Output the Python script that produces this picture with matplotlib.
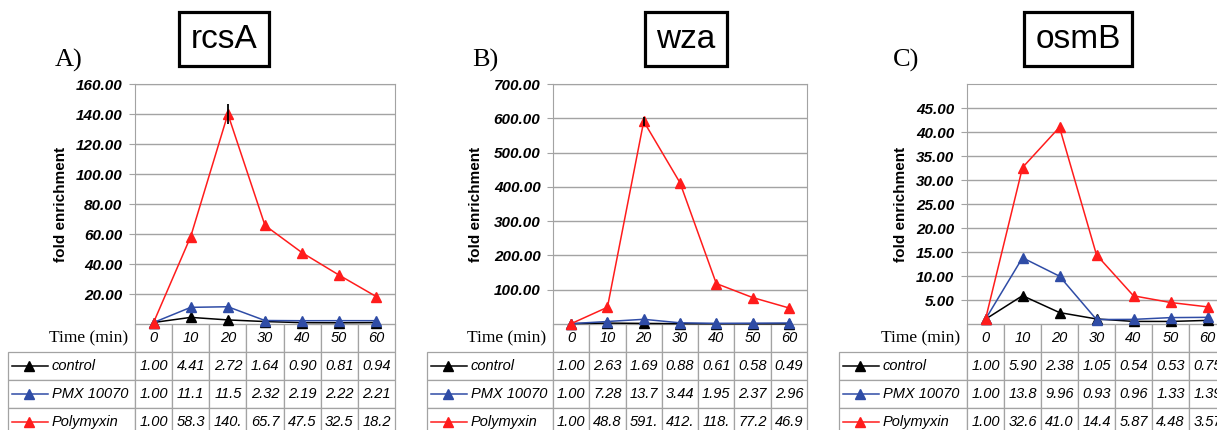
import matplotlib
matplotlib.use("Agg")
import matplotlib.pyplot as plt
from matplotlib.table import Table

plt.rcParams['font.family'] = ['Liberation Sans', 'DejaVu Sans']

# shared categories
times = [0, 10, 20, 30, 40, 50, 60]
series = ['control', 'PMX 10070', 'Polymyxin']
colors = ['black', '#2f4ca6', '#ff1c1c']
genes = ['rcsA', 'wza', 'osmB']
letters = ['A)', 'B)', 'C)']

# fold enrichment values
rcsA_control = [1.00, 4.41, 2.72, 1.64, 0.90, 0.81, 0.94]
rcsA_pmx = [1.00, 11.1, 11.5, 2.32, 2.19, 2.22, 2.21]
rcsA_poly = [1.00, 58.3, 140.0, 65.7, 47.5, 32.5, 18.2]
rcsA_poly_err = [0, 0, 6.5, 0, 0, 0, 0]

wza_control = [1.00, 2.63, 1.69, 0.88, 0.61, 0.58, 0.49]
wza_pmx = [1.00, 7.28, 13.7, 3.44, 1.95, 2.37, 2.96]
wza_poly = [1.00, 48.8, 591.0, 412.0, 118.0, 77.2, 46.9]
wza_poly_err = [0, 0, 14, 0, 0, 0, 0]

osmB_control = [1.00, 5.90, 2.38, 1.05, 0.54, 0.53, 0.75]
osmB_pmx = [1.00, 13.8, 9.96, 0.93, 0.96, 1.33, 1.39]
osmB_poly = [1.00, 32.6, 41.0, 14.4, 5.87, 4.48, 3.57]
osmB_poly_err = [0, 0, 0, 0, 0, 0, 0]

# y axis setup per panel: (ymax, step, last labelled tick)
y_axes = [(160, 20, 160), (700, 100, 700), (50, 5, 45)]

panels = [
    (rcsA_control, rcsA_pmx, rcsA_poly, rcsA_poly_err),
    (wza_control, wza_pmx, wza_poly, wza_poly_err),
    (osmB_control, osmB_pmx, osmB_poly, osmB_poly_err),
]

# layout in pixels: axes left, axes width, table left, ylabel x, letter x, title x
layout = [
    (135, 260, 8, 61, 55, 224),
    (553, 254, 427, 476, 472, 686),
    (967, 259, 839, 901, 893, 1078),
]

W, H = 1217, 430
ax_top, ax_bot = 84, 324
tab_px = 112
grey = '#a3a3a3'

fig = plt.figure(figsize=(W / 100, H / 100), dpi=100)

for (ctrl, pmx, poly, err), (ymax, step, ylast), gene, letter, geo in zip(
        panels, y_axes, genes, letters, layout):
    left, width, tab_left, ylab_x, let_x, title_x = geo
    ax = fig.add_axes([left / W, (H - ax_bot) / H, width / W, (ax_bot - ax_top) / H])
    data = [ctrl, pmx, poly]

    for vals, c in zip(data, colors):
        ax.plot(times, vals, color=c, lw=1.1, marker='^', ms=7.5,
                clip_on=False, zorder=3)
    ax.errorbar(times, poly, yerr=err, fmt='none', ecolor='black',
                elinewidth=1.3, capsize=0, zorder=4)

    ticks = list(range(step, ylast + 1, step))
    ax.set_yticks(ticks)
    ax.set_yticklabels([f'{t:.2f}' for t in ticks], fontsize=11,
                       fontweight='bold', fontstyle='italic')
    ax.set_xticks([])
    ax.grid(axis='y', color=grey, lw=1)
    ax.set_axisbelow(True)
    for s in ax.spines.values():
        s.set_color(grey)
    ax.tick_params(axis='y', color=grey, length=4, pad=5)
    ax.text((ylab_x - left) / width, 0.5, 'fold enrichment', transform=ax.transAxes,
            rotation=90, ha='center', va='center', fontsize=11, fontweight='bold')

    # data table under the plot; bbox covers the data columns only
    lab_w = (left - tab_left) / width
    tab_h = tab_px / (ax_bot - ax_top)
    tab = Table(ax, bbox=[0, -tab_h, 1, tab_h])
    corner = tab.add_cell(0, -1, width=lab_w, height=1, text='Time (min)', loc='right')
    for j, t in enumerate(times):
        tab.add_cell(0, j, width=1 / 7, height=1, text=str(t), loc='center')
    for i, (name, vals) in enumerate(zip(series, data), start=1):
        cell = tab.add_cell(i, -1, width=lab_w, height=1, text=name, loc='left')
        cell.PAD = 44 / (left - tab_left)
        for j, v in enumerate(vals):
            tab.add_cell(i, j, width=1 / 7, height=1, text=f'{v:.2f}'[:4], loc='center')
    tab.auto_set_font_size(False)
    for cell in tab.get_celld().values():
        cell.set_edgecolor(grey)
        cell.set_linewidth(0.9)
        cell.get_text().set_fontsize(10.5)
        cell.get_text().set_fontstyle('italic')
    corner.visible_edges = ''
    corner.PAD = 0.055
    corner.get_text().set_fontstyle('normal')
    corner.get_text().set_fontfamily('Liberation Serif')
    corner.get_text().set_fontsize(12.5)
    ax.add_table(tab)

    # legend keys in the row label cells
    px = 1 / width
    for i, c in enumerate(colors):
        yc = -tab_h * (i + 1.5) / 4
        ax.plot([-lab_w + 4 * px, -lab_w + 40 * px], [yc, yc], color=c, lw=1.1,
                transform=ax.transAxes, clip_on=False)
        ax.plot([-lab_w + 21 * px], [yc], color=c, marker='^', ms=7.5,
                transform=ax.transAxes, clip_on=False)

    ax.set_xlim(-5, 65)
    ax.set_ylim(0, ymax)

    fig.text(title_x / W, (H - 39) / H, gene, ha='center', va='center', fontsize=24,
             bbox=dict(boxstyle='square,pad=0.35', fc='white', ec='black', lw=2.3))
    fig.text(let_x / W, (H - 67) / H, letter, ha='left', va='baseline', fontsize=19,
             family='Liberation Serif')

fig.savefig('out.png', dpi=100)
